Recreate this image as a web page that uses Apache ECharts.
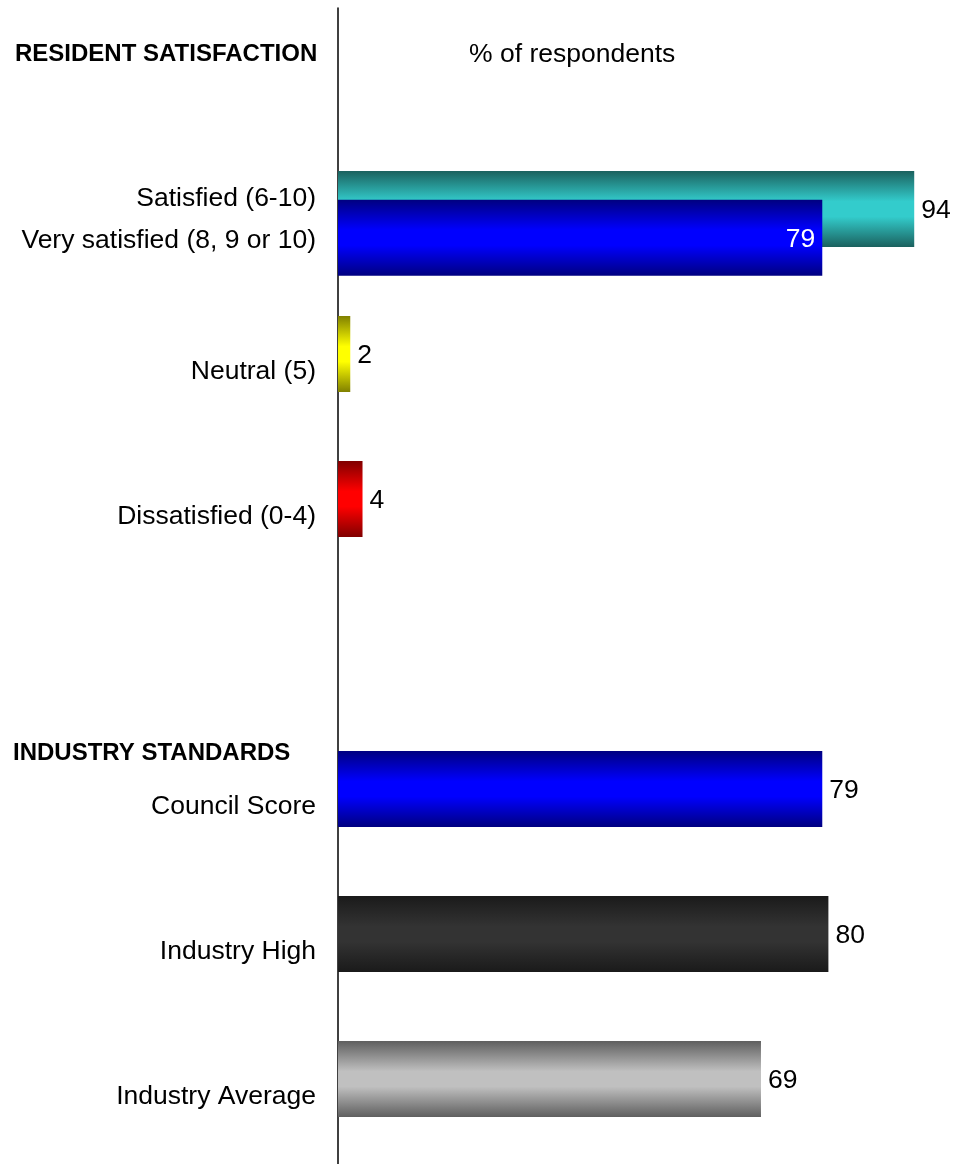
<!DOCTYPE html>
<html>
<head>
<meta charset="utf-8">
<script src="https://cdn.jsdelivr.net/npm/echarts@6/dist/echarts.min.js"></script>
<style>
  html, body { margin: 0; padding: 0; background: #fff; }
  #chart { width: 953px; height: 1164px; }
</style>
</head>
<body>
<div id="chart"></div>
<script>
// Survey results: share of respondents per rating band, plus industry benchmarks
const categories = ['Satisfied (6-10)', 'Neutral (5)', 'Dissatisfied (0-4)', '', 'Council Score', 'Industry High', 'Industry Average'];
const shares = [94, 2, 4, null, 79, 80, 69];
const verySatisfiedLabel = 'Very satisfied (8, 9 or 10)';
const verySatisfied = [79, null, null, null, null, null, null];
const headings = ['RESIDENT SATISFACTION', 'INDUSTRY STANDARDS'];
const unitLabel = '% of respondents';

// [edge, centre] colours for the cylinder-style shading of each bar
const barShades = [
  ['#1b615e', '#33cccc'],
  ['#808000', '#ffff00'],
  ['#800000', '#ff0000'],
  ['#000000', '#000000'],
  ['#000080', '#0000ff'],
  ['#1a1a1a', '#333333'],
  ['#5f5f5f', '#c0c0c0']
];
const blueShade = ['#000080', '#0000ff'];

const FONT = "'Liberation Sans', Arial, sans-serif";
const LABEL_SIZE = 26.5;

function shade(pair) {
  return new echarts.graphic.LinearGradient(0, 0, 0, 1, [
    { offset: 0, color: pair[0] },
    { offset: 0.4, color: pair[1] },
    { offset: 0.6, color: pair[1] },
    { offset: 1, color: pair[0] }
  ]);
}

const chart = echarts.init(document.getElementById('chart'), null, { renderer: 'canvas' });

const mainGrid = { left: 338, right: 2, top: 136.5, height: 1015 };
const overlayGrid = { left: 338, right: 2, top: 166.5, height: 1015 };
const spineGrid = { left: 337.5, right: 2, top: 8, bottom: 0 };

chart.setOption({
  animation: false,
  textStyle: { fontFamily: FONT },
  title: [
    { text: headings[0], left: 15, top: 42, padding: 0,
      textStyle: { fontFamily: FONT, fontSize: 24, fontWeight: 'bold', color: '#000' } },
    { text: headings[1], left: 13, top: 741, padding: 0,
      textStyle: { fontFamily: FONT, fontSize: 24, fontWeight: 'bold', color: '#000' } },
    { text: unitLabel, left: 469, top: 41, padding: 0,
      textStyle: { fontFamily: FONT, fontSize: LABEL_SIZE, fontWeight: 'normal', color: '#000' } }
  ],
  grid: [mainGrid, overlayGrid, spineGrid],
  xAxis: [
    { type: 'value', gridIndex: 0, min: 0, max: 100, show: false },
    { type: 'value', gridIndex: 1, min: 0, max: 100, show: false },
    { type: 'value', gridIndex: 2, min: 0, max: 100, show: false }
  ],
  yAxis: [
    {
      type: 'category', gridIndex: 0, inverse: true, data: categories,
      axisLine: { show: false }, axisTick: { show: false }, splitLine: { show: false },
      axisLabel: {
        margin: 22,
        formatter: function (v, i) {
          if (!v) return '';
          return i === 0 ? '{up|' + v + '}' : '{down|' + v + '}';
        },
        rich: {
          up: { fontFamily: FONT, fontSize: LABEL_SIZE, color: '#000', padding: [0, 0, 20, 0] },
          down: { fontFamily: FONT, fontSize: LABEL_SIZE, color: '#000', padding: [36, 0, 0, 0] }
        }
      }
    },
    {
      type: 'category', gridIndex: 1, inverse: true, data: categories,
      axisLine: { show: false }, axisTick: { show: false }, splitLine: { show: false },
      axisLabel: {
        margin: 22,
        formatter: function (v, i) { return i === 0 ? '{v|' + verySatisfiedLabel + '}' : ''; },
        rich: {
          v: { fontFamily: FONT, fontSize: LABEL_SIZE, color: '#000', padding: [6, 0, 0, 0] }
        }
      }
    },
    {
      type: 'value', gridIndex: 2,
      axisLine: { show: true, onZero: false, lineStyle: { color: '#000', width: 1.5 } },
      axisTick: { show: false }, axisLabel: { show: false }, splitLine: { show: false }
    }
  ],
  series: [
    {
      type: 'bar', xAxisIndex: 0, yAxisIndex: 0, barWidth: 76,
      data: shares.map(function (v, i) {
        return { value: v, itemStyle: { color: shade(barShades[i]) } };
      }),
      label: {
        show: true, position: 'right', distance: 7, offset: [0, 2],
        fontFamily: FONT, fontSize: LABEL_SIZE, color: '#000'
      }
    },
    {
      type: 'bar', xAxisIndex: 1, yAxisIndex: 1, barWidth: 76,
      data: verySatisfied,
      itemStyle: { color: shade(blueShade) },
      label: {
        show: true, position: 'insideRight', distance: 7, offset: [0, 2],
        fontFamily: FONT, fontSize: LABEL_SIZE, color: '#fff'
      }
    }
  ]
});
</script>
</body>
</html>
